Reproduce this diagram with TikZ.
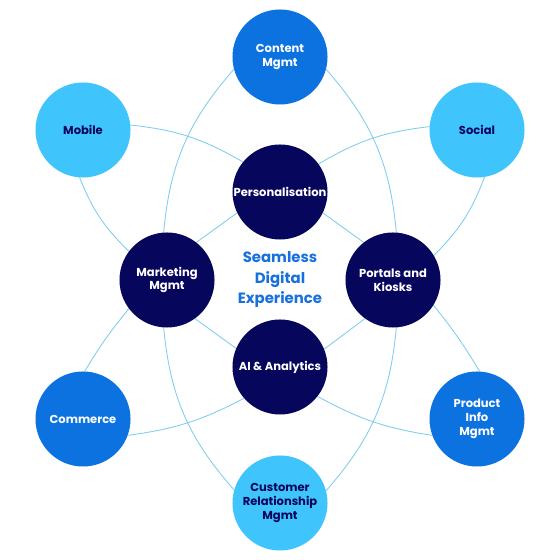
\documentclass[tikz,border=0pt]{standalone}
\usepackage{fontspec}
\setmainfont{Poppins}
\usetikzlibrary{backgrounds}
\definecolor{navy}{RGB}{6,6,92}
\definecolor{midblue}{RGB}{11,114,224}
\definecolor{lightblue}{RGB}{64,196,252}
\definecolor{linkblue}{RGB}{125,205,240}
\definecolor{titleblue}{RGB}{24,112,222}
\begin{document}
\begin{tikzpicture}[x=0.025cm,y=0.025cm,
  hub/.style={circle, minimum size=2.375cm, inner sep=0pt, draw=none, align=center,
    font=\fontsize{8.2}{9.9}\selectfont\bfseries},
  darkhub/.style={hub, fill=navy, text=white},
  midhub/.style={hub, fill=midblue, text=white},
  lighthub/.style={hub, fill=lightblue, text=navy},
  link/.style={draw=linkblue, line width=0.6pt, line cap=round}]
\node[midhub]   (cont) at (280,503) {Content\\Mgmt};
\node[lighthub] (mob)  at (83,430)  {Mobile};
\node[lighthub] (soc)  at (477,430) {Social};
\node[darkhub]  (pers) at (280,368) {Personalisation};
\node[darkhub]  (mkt)  at (167,280) {Marketing\\Mgmt};
\node[darkhub]  (port) at (393,280) {Portals and\\Kiosks};
\node[darkhub]  (ai)   at (280,193) {AI \& Analytics};
\node[midhub]   (com)  at (83,141)  {Commerce};
\node[midhub]   (prod) at (477,141) {Product\\Info\\Mgmt};
\node[lighthub] (crm)  at (280,57)  {Customer\\Relationship\\Mgmt};
\node[font=\fontsize{10.6}{14.5}\selectfont\bfseries, text=titleblue, align=center]
  (title) at (280,280.5) {Seamless\\Digital\\Experience};
\begin{scope}[on background layer]
\fill[white] (0,0) rectangle (560,560);
\draw[link] (mob.6) to[bend left=12] (pers.141);
\draw[link] (pers.36) to[bend left=12] (soc.176);
\draw[link] (com.-20) to[bend right=10] (ai.221);
\draw[link] (ai.-38) to[bend right=10] (prod.200);
\draw[link] (mob.-94) to[bend right=12] (mkt.143);
\draw[link] (mkt.217) to[bend right=4] (com.88);
\draw[link] (soc.-81) to[bend left=12] (port.31);
\draw[link] (port.-32) to[bend left=4] (prod.87);
\draw[link] (cont.195) to[bend right=18] (mkt.94);
\draw[link] (cont.-15) to[bend left=18] (port.86);
\draw[link] (mkt.-94) to[bend right=18] (crm.164);
\draw[link] (port.-86) to[bend left=18] (crm.15);
\draw[link] (pers.206) -- (mkt.52);
\draw[link] (pers.-26) -- (port.128);
\draw[link] (mkt.-54) -- (ai.157);
\draw[link] (port.-126) -- (ai.22);
\end{scope}
\end{tikzpicture}
\end{document}
